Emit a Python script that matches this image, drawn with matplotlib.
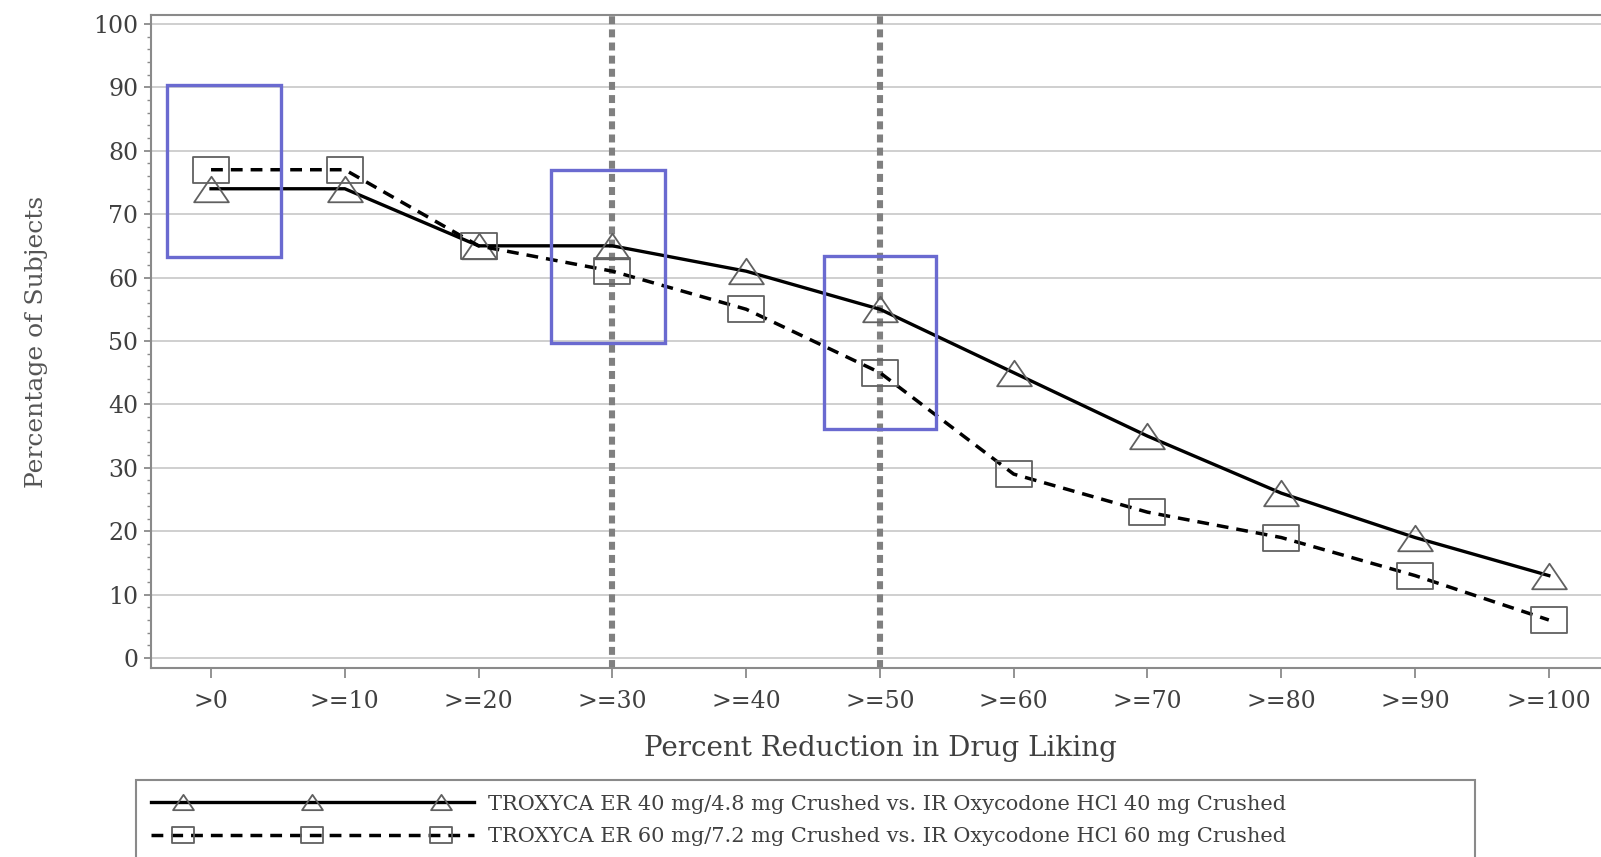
import matplotlib
matplotlib.use("Agg")
import numpy as np
from matplotlib import pyplot as plt
from matplotlib.lines import Line2D
from matplotlib.path import Path
from matplotlib.patches import Rectangle
from matplotlib.ticker import MultipleLocator
from matplotlib.legend_handler import HandlerLine2DCompound

# categories on the x axis
categories = ['>0', '>=10', '>=20', '>=30', '>=40', '>=50',
              '>=60', '>=70', '>=80', '>=90', '>=100']
# percentage of subjects
troxyca_40 = [74, 74, 65, 65, 61, 55, 45, 35, 26, 19, 13]
troxyca_60 = [77, 77, 65, 61, 55, 45, 29, 23, 19, 13, 6]
label_40 = 'TROXYCA ER 40 mg/4.8 mg Crushed vs. IR Oxycodone HCl 40 mg Crushed'
label_60 = 'TROXYCA ER 60 mg/7.2 mg Crushed vs. IR Oxycodone HCl 60 mg Crushed'
# reference lines at >=30 and >=50
ref_idx = [3, 5]
# highlight boxes (x0, x1, y0, y1) in data units
boxes = [(-0.33, 0.52, 63.2, 90.4),
         (2.54, 3.39, 49.7, 76.9),
         (4.58, 5.42, 36.1, 63.4)]

plt.rcParams['font.family'] = ['DejaVu Serif']


class PaddedLine(HandlerLine2DCompound):
    # line runs the full handle, markers sit inset from the ends
    def get_xdata(self, legend, xdescent, ydescent, width, height, fontsize):
        n = self.get_numpoints(legend)
        line_x = np.linspace(-xdescent, -xdescent + width, n)
        pad = 1.55 * fontsize
        mark_x = np.linspace(-xdescent + pad, -xdescent + width - pad, n)
        return line_x, mark_x


# slightly wide markers, like the original
sq = Path([(-1.36, -1), (1.36, -1), (1.36, 1), (-1.36, 1), (-1.36, -1)],
          [Path.MOVETO, Path.LINETO, Path.LINETO, Path.LINETO, Path.CLOSEPOLY])
tri = Path([(0, 1), (-1.36, -1), (1.36, -1), (0, 1)],
           [Path.MOVETO, Path.LINETO, Path.LINETO, Path.CLOSEPOLY])

fig = plt.figure(figsize=(16.01, 8.57), dpi=100)
ax = fig.add_axes([0.0943, 0.2205, 0.9107, 0.762])

x = list(range(len(categories)))
ax.grid(axis='y', color='#cfcfcf', lw=1.4)
ax.set_axisbelow(True)

for i in ref_idx:
    ax.axvline(i, color='#808080', lw=4.4, dashes=(1.3, 0.85),
               solid_capstyle='butt', dash_capstyle='butt', zorder=2)

ax.plot(x, troxyca_40, color='black', lw=2.4, marker=tri, ms=25,
        mfc='none', mec='#606060', mew=1.3, label=label_40, zorder=3)
ax.plot(x, troxyca_60, color='black', lw=2.5, dashes=(3.4, 2.3),
        marker=sq, ms=26, mfc='none', mec='#606060', mew=1.3,
        label=label_60, zorder=3)

for x0, x1, y0, y1 in boxes:
    ax.add_patch(Rectangle((x0, y0), x1 - x0, y1 - y0, fill=False,
                           ec='#6a6ad0', lw=2.4, zorder=4, clip_on=False))

ax.set_xlim(-0.449, 10.45)
ax.set_ylim(-1.58, 101.4)
ax.set_xticks(x)
ax.set_xticklabels(categories)
ax.yaxis.set_major_locator(MultipleLocator(10))
ax.yaxis.set_minor_locator(MultipleLocator(2))

for s in ax.spines.values():
    s.set_color('#8a8a8a')
    s.set_linewidth(1.5)

ax.tick_params(axis='x', length=7, width=1.3, color='#8a8a8a',
               labelsize=17, labelcolor='#404040', pad=9)
ax.tick_params(axis='y', which='major', length=5, width=1.3,
               color='#8a8a8a', labelsize=17, labelcolor='#404040', pad=4)
ax.tick_params(axis='y', which='minor', length=3, width=1.0, color='#8a8a8a')

ax.set_xlabel('Percent Reduction in Drug Liking', fontsize=20,
              color='#404040', labelpad=16)
ax.set_ylabel('Percentage of Subjects', fontsize=18, color='#555555',
              labelpad=33)

leg = fig.legend(loc='upper left',
                 bbox_to_anchor=(136 / 1601, 1 - 780 / 857 - 0.01,
                                 1339 / 1601, 0.01),
                 mode='expand', borderaxespad=0, fontsize=15, numpoints=3,
                 handlelength=15.5, handletextpad=0.72, markerscale=0.6,
                 labelspacing=0.65, borderpad=0.7, fancybox=False,
                 framealpha=1, edgecolor='#8a8a8a',
                 handler_map={Line2D: PaddedLine()})
leg.get_frame().set_linewidth(1.5)
for t in leg.get_texts():
    t.set_color('#404040')

fig.savefig('out.png', dpi=100)
